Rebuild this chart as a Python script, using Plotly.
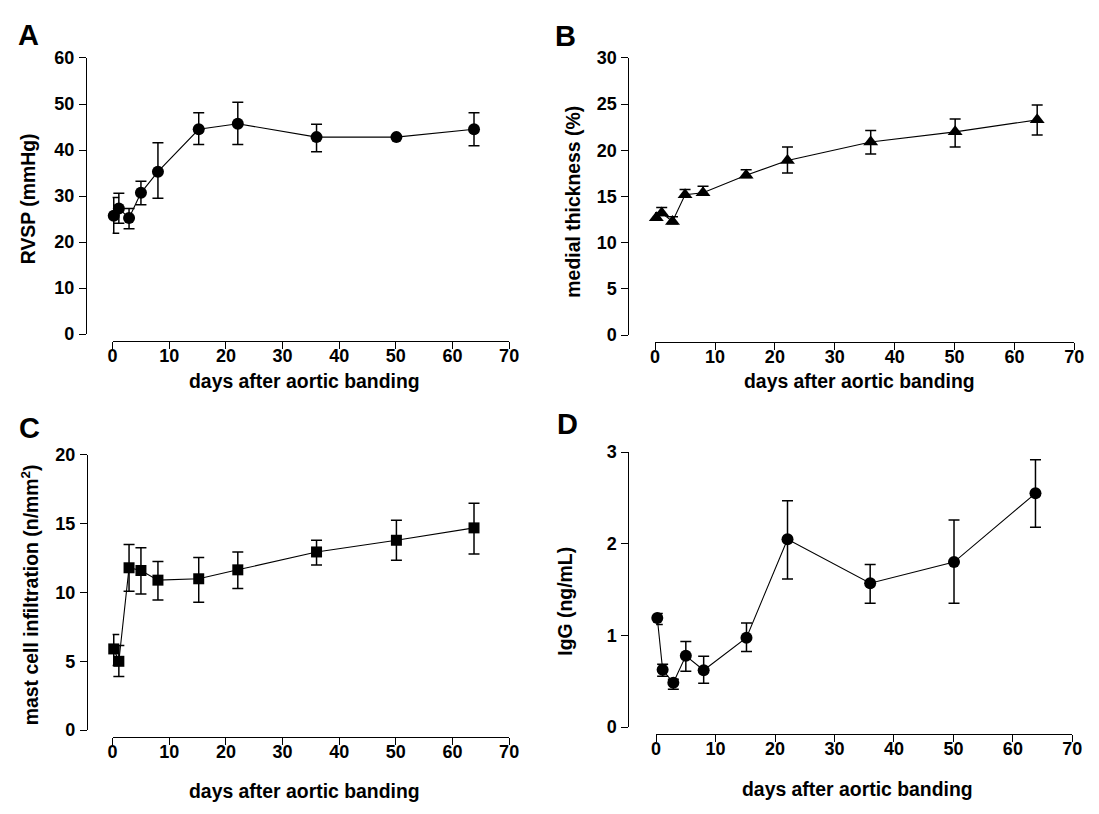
import plotly.graph_objects as go

W, H = 1099, 814

# ---------------- data ----------------
days = [0.2, 1.1, 2.9, 5.0, 8.0, 15.2, 22.1, 36.0, 50.1, 63.8]
x_ticks = [0, 10, 20, 30, 40, 50, 60, 70]

rvsp = [25.7, 27.3, 25.2, 30.7, 35.3, 44.5, 45.7, 42.8, 42.8, 44.5]
rvsp_plus = [4.0, 3.3, 2.1, 2.5, 6.3, 3.6, 4.7, 2.8, 0.0, 3.6]
rvsp_minus = [3.8, 3.2, 2.3, 2.6, 5.8, 3.3, 4.5, 3.2, 0.0, 3.6]
rvsp_ticks = [0, 10, 20, 30, 40, 50, 60]

medial = [12.7, 13.2, 12.3, 15.2, 15.4, 17.3, 18.9, 20.9, 22.0, 23.3]
medial_plus = [0.55, 0.6, 0.5, 0.55, 0.7, 0.6, 1.45, 1.25, 1.4, 1.6]
medial_minus = [0.25, 0.25, 0.25, 0.25, 0.25, 0.25, 1.35, 1.3, 1.65, 1.65]
medial_ticks = [0, 5, 10, 15, 20, 25, 30]

mast = [5.9, 5.0, 11.8, 11.6, 10.9, 11.0, 11.65, 12.95, 13.8, 14.7]
mast_plus = [1.05, 1.15, 1.7, 1.65, 1.35, 1.55, 1.3, 0.85, 1.45, 1.8]
mast_minus = [1.2, 1.1, 1.7, 1.7, 1.45, 1.7, 1.35, 0.95, 1.45, 1.9]
mast_ticks = [0, 5, 10, 15, 20]

igg = [1.19, 0.625, 0.483, 0.778, 0.621, 0.976, 2.05, 1.57, 1.80, 2.55]
igg_plus = [0.05, 0.06, 0.04, 0.156, 0.153, 0.16, 0.42, 0.205, 0.46, 0.365]
igg_minus = [0.07, 0.07, 0.07, 0.168, 0.142, 0.15, 0.435, 0.22, 0.45, 0.37]
igg_ticks = [0, 1, 2, 3]

x_title = "days after aortic banding"

# ---------------- styling / geometry (pixels) ----------------
FONT = "Liberation Sans, Arial, sans-serif"
panels = [
    dict(letter="A", y=rvsp, yp=rvsp_plus, ym=rvsp_minus, yt=rvsp_ticks, ytitle="RVSP (mmHg)",
         symbol="circle", msize=12,
         yline_x=74, x0=101, x70=503, y0=324, ytop=41, xline_y=331,
         letter_xy=(16, 17), ytitle_xy=(16, 185), xtitle_xy=(296, 372)),
    dict(letter="B", y=medial, yp=medial_plus, ym=medial_minus, yt=medial_ticks, ytitle="medial thickness (%)",
         symbol="triangle-up", msize=13,
         yline_x=624, x0=651, x70=1076, y0=325, ytop=41, xline_y=332,
         letter_xy=(560, 18), ytitle_xy=(568, 188), xtitle_xy=(858, 372)),
    dict(letter="C", y=mast, yp=mast_plus, ym=mast_minus, yt=mast_ticks,
         ytitle="mast cell infiltration (n/mm<sup>2</sup>)",
         symbol="square", msize=11,
         yline_x=75, x0=101, x70=503, y0=730, ytop=448, xline_y=737,
         letter_xy=(17, 420), ytitle_xy=(18, 591), xtitle_xy=(296, 792)),
    dict(letter="D", y=igg, yp=igg_plus, ym=igg_minus, yt=igg_ticks, ytitle="IgG (ng/mL)",
         symbol="circle", msize=12,
         yline_x=624, x0=652, x70=1074, y0=727, ytop=445, xline_y=734,
         letter_xy=(562, 416), ytitle_xy=(560, 598), xtitle_xy=(856, 790)),
]

fig = go.Figure()
layout = dict(
    width=W, height=H,
    margin=dict(l=0, r=0, t=0, b=0),
    paper_bgcolor="white", plot_bgcolor="white",
    showlegend=False,
    font=dict(family=FONT, color="black"),
)
annotations = []

for i, p in enumerate(panels):
    n = "" if i == 0 else str(i + 1)
    xa, ya = "x" + n, "y" + n
    fig.add_trace(go.Scatter(
        x=days, y=p["y"], xaxis=xa, yaxis=ya,
        mode="lines+markers", cliponaxis=False,
        line=dict(color="black", width=1.1),
        marker=dict(symbol=p["symbol"], size=p["msize"], color="black"),
        error_y=dict(type="data", symmetric=False, array=p["yp"], arrayminus=p["ym"],
                     color="black", thickness=1.5, width=5.5),
    ))
    layout["xaxis" + n] = dict(
        domain=[p["x0"] / W, p["x70"] / W], range=[0, 70],
        anchor="free", position=1 - p["xline_y"] / H,
        tickvals=x_ticks, ticks="outside", ticklen=7, tickwidth=1.3, tickcolor="black",
        ticklabelstandoff=-9,
        showline=True, linecolor="black", linewidth=1.3,
        showgrid=False, zeroline=False,
        tickfont=dict(family=FONT, size=18, weight="bold", color="black"),
    )
    layout["yaxis" + n] = dict(
        domain=[1 - p["y0"] / H, 1 - p["ytop"] / H], range=[p["yt"][0], p["yt"][-1]],
        anchor="free", position=p["yline_x"] / W, side="left",
        tickvals=p["yt"], ticks="outside", ticklen=7, tickwidth=1.3, tickcolor="black",
        ticklabelstandoff=1,
        showline=True, linecolor="black", linewidth=1.3,
        showgrid=False, zeroline=False,
        tickfont=dict(family=FONT, size=18, weight="bold", color="black"),
    )
    lx, ly = p["letter_xy"]
    annotations.append(dict(text=p["letter"], x=lx / W, y=1 - ly / H, xref="paper", yref="paper",
                            showarrow=False, xanchor="center", yanchor="middle",
                            font=dict(family=FONT, size=29, weight="bold", color="black")))
    tx, ty = p["ytitle_xy"]
    annotations.append(dict(text=p["ytitle"], x=tx / W, y=1 - ty / H, xref="paper", yref="paper",
                            showarrow=False, xanchor="center", yanchor="middle", textangle=-90,
                            font=dict(family=FONT, size=19.4, weight="bold", color="black")))
    hx, hy = p["xtitle_xy"]
    annotations.append(dict(text=x_title, x=hx / W, y=1 - hy / H, xref="paper", yref="paper",
                            showarrow=False, xanchor="center", yanchor="middle",
                            font=dict(family=FONT, size=19.4, weight="bold", color="black")))

layout["annotations"] = annotations
fig.update_layout(**layout)
fig.write_html("out.html")
